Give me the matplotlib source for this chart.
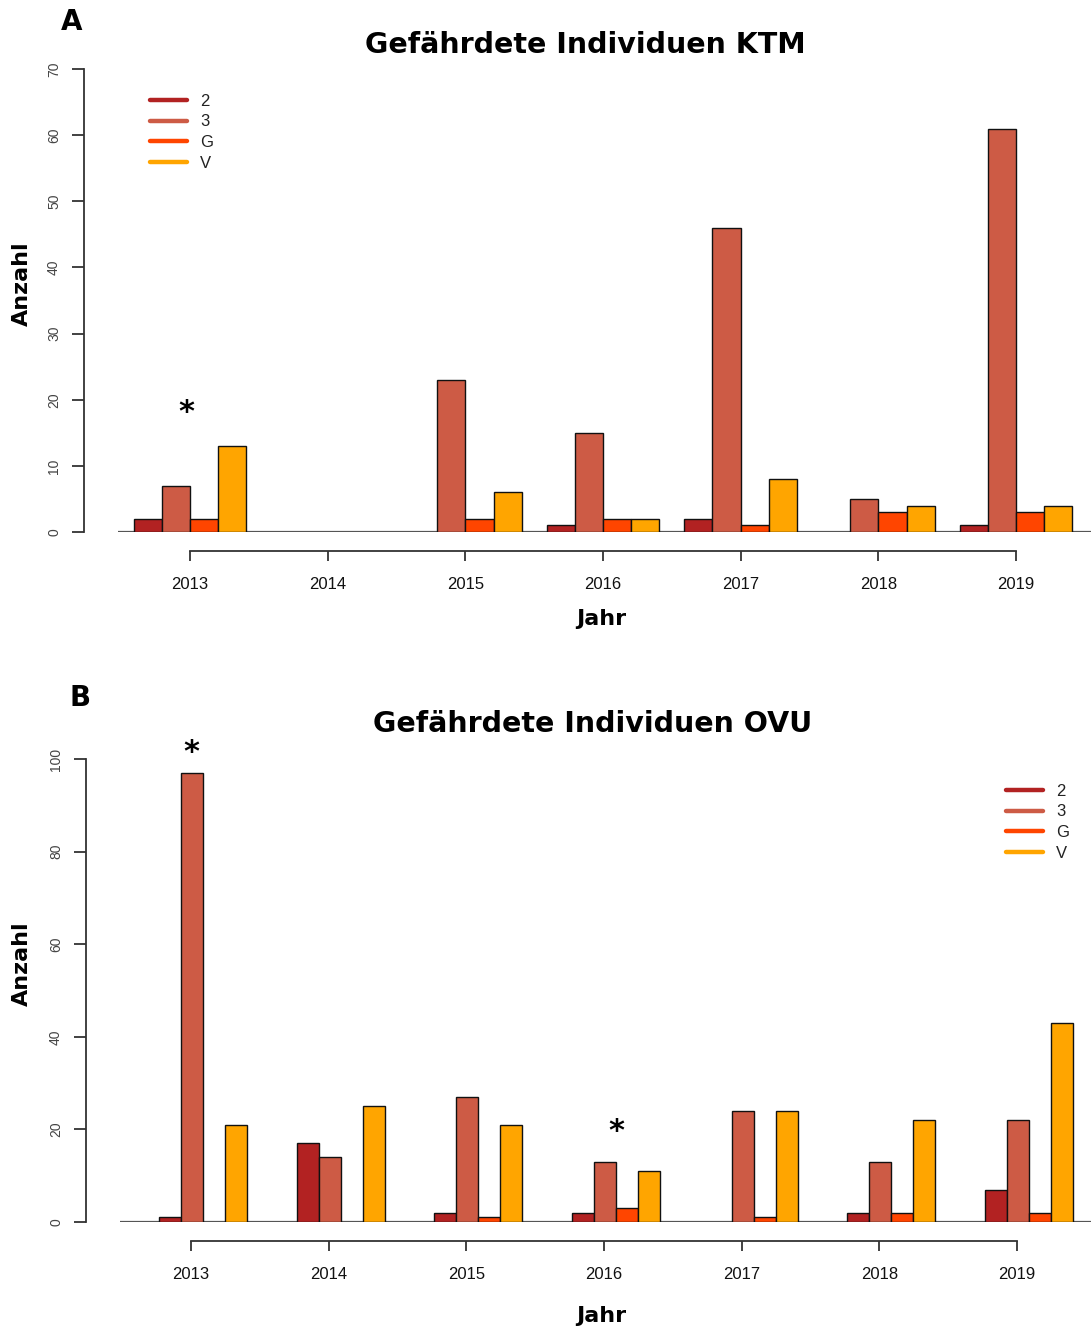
import numpy as np
import matplotlib
matplotlib.use("Agg")
import matplotlib.pyplot as plt
from matplotlib.lines import Line2D

years = [2013, 2014, 2015, 2016, 2017, 2018, 2019]
categories = ["2", "3", "G", "V"]
colors = ["#B22222", "#CD5B45", "#FF4500", "#FFA500"]

# Panel A - KTM
ktm_2 = [2, 0, 0, 1, 2, 0, 1]
ktm_3 = [7, 0, 23, 15, 46, 5, 61]
ktm_G = [2, 0, 2, 2, 1, 3, 3]
ktm_V = [13, 0, 6, 2, 8, 4, 4]

# Panel B - OVU
ovu_2 = [1, 17, 2, 2, 0, 2, 7]
ovu_3 = [97, 14, 27, 13, 24, 13, 22]
ovu_G = [0, 0, 1, 3, 1, 2, 2]
ovu_V = [21, 25, 21, 11, 24, 22, 43]

# significance markers (year, x offset, height)
stars_ktm = [(2013, -0.03, 18.0)]
stars_ovu = [(2013, 0.0, 101.5), (2016, 0.09, 19.5)]

W, H = 1091, 1329
fig = plt.figure(figsize=(W / 100, H / 100), dpi=100)


def px_ax(left, right, top, bottom):
    return fig.add_axes([left / W, 1 - bottom / H, (right - left) / W, (bottom - top) / H])


def draw_panel(ax, series, width, offset, ymax, yticks, xlim, stars, legend_xy):
    x = np.array(years, dtype=float)
    for i, (vals, col) in enumerate(zip(series, colors)):
        pos = x + offset + (i - 1.5) * width
        lws = [1.0 if v > 0 else 0.0 for v in vals]
        ax.bar(pos, vals, width=width, color=col, edgecolor="#111111", linewidth=lws, zorder=3)
    ax.axhline(0, color="#555555", lw=1.6, zorder=2)
    ax.set_xlim(*xlim)
    ax.set_ylim(0, ymax)
    for s in ["top", "right"]:
        ax.spines[s].set_visible(False)
    ax.spines["left"].set_position(("outward", 24.5))
    ax.spines["left"].set_bounds(0, ymax)
    ax.spines["bottom"].set_position(("outward", 13.7))
    ax.spines["bottom"].set_bounds(years[0], years[-1])
    for s in ["left", "bottom"]:
        ax.spines[s].set_color("#333333")
        ax.spines[s].set_linewidth(1.3)
    ax.set_yticks(yticks)
    ax.set_yticklabels([str(t) for t in yticks], rotation=90, va="center",
                       fontsize=10, color="#444444", family="Liberation Sans")
    ax.set_xticks(years)
    ax.set_xticklabels([str(y) for y in years], fontsize=12, color="#111111",
                       family="Liberation Sans")
    ax.tick_params(axis="y", length=8.5, width=1.3, color="#333333", pad=8)
    ax.tick_params(axis="x", length=7.5, width=1.3, color="#333333", pad=11)
    for yr, dx, h in stars:
        ax.text(yr + dx, h, "*", ha="center", va="center", fontsize=22,
                fontweight="bold", color="black")
    handles = [Line2D([0], [0], color=c, lw=3.2, solid_capstyle="round") for c in colors]
    leg = ax.legend(handles, categories, loc="upper left",
                    bbox_to_anchor=(legend_xy[0] / W, 1 - legend_xy[1] / H),
                    bbox_transform=fig.transFigure, frameon=False,
                    handlelength=2.2, handletextpad=0.8, labelspacing=0.33,
                    borderpad=0, borderaxespad=0,
                    prop={"family": "Liberation Sans", "size": 12})
    for t in leg.get_texts():
        t.set_color("#222222")


# Panel A
axA = px_ax(118, 1091, 69, 532)
draw_panel(axA, [ktm_2, ktm_3, ktm_G, ktm_V], 0.205, 0.0, 70,
           [0, 10, 20, 30, 40, 50, 60, 70], (2012.477, 2019.545),
           stars_ktm, (150, 94))

# Panel B
axB = px_ax(120, 1091, 759, 1222)
draw_panel(axB, [ovu_2, ovu_3, ovu_G, ovu_V], 0.16, 0.087, 100,
           [0, 20, 40, 60, 80, 100], (2012.484, 2019.538),
           stars_ovu, (1006, 784))

title_font = dict(family="DejaVu Sans", fontweight="bold", color="black")
fig.text(585 / W, 1 - 45 / H, "Gefährdete Individuen KTM", ha="center", va="center",
         fontsize=20.5, **title_font)
fig.text(593 / W, 1 - 724 / H, "Gefährdete Individuen OVU", ha="center", va="center",
         fontsize=20.5, **title_font)
fig.text(72 / W, 1 - 22 / H, "A", ha="center", va="center", fontsize=20, **title_font)
fig.text(80 / W, 1 - 698 / H, "B", ha="center", va="center", fontsize=20, **title_font)
fig.text(22 / W, 1 - 284 / H, "Anzahl", ha="center", va="center", rotation=90,
         fontsize=16, **title_font)
fig.text(22 / W, 1 - 964 / H, "Anzahl", ha="center", va="center", rotation=90,
         fontsize=16, **title_font)
fig.text(601 / W, 1 - 619 / H, "Jahr", ha="center", va="center", fontsize=16, **title_font)
fig.text(601 / W, 1 - 1316 / H, "Jahr", ha="center", va="center", fontsize=16, **title_font)

fig.savefig("out.png", dpi=100)
